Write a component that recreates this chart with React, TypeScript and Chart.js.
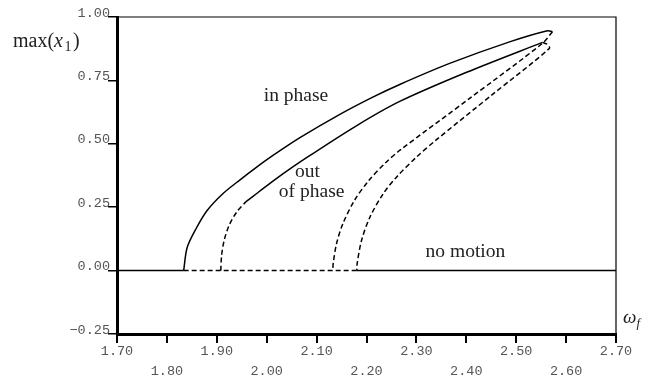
import React, { useEffect, useRef } from "react";
import { Chart, registerables } from "chart.js";

Chart.register(...registerables);

// ---- tick values / labels ----
const xTickValues = [1.7, 1.8, 1.9, 2.0, 2.1, 2.2, 2.3, 2.4, 2.5, 2.6, 2.7];
const xTickLabels = ["1.70", "1.80", "1.90", "2.00", "2.10", "2.20", "2.30", "2.40", "2.50", "2.60", "2.70"];
const yTickValues = [-0.25, 0, 0.25, 0.5, 0.75, 1.0];
const yTickLabels = ["\u22120.25", "0.00", "0.25", "0.50", "0.75", "1.00"];

// ---- zero solution (no motion) ----
const zeroSolidLeftX = [1.7, 1.8336];
const zeroDashedX = [1.8336, 2.1806];
const zeroSolidRightX = [2.1806, 2.7];

// ---- in phase branch ----
const inPhaseStableX = [1.8336, 1.8406, 1.8586, 1.8806, 1.9126, 1.9466, 1.9806, 2.0126, 2.0666, 2.1466, 2.2126, 2.2666, 2.3666, 2.4866, 2.5626, 2.5726];
const inPhaseStableY = [0, 0.091, 0.166, 0.237, 0.304, 0.358, 0.409, 0.454, 0.524, 0.616, 0.684, 0.734, 0.817, 0.902, 0.946, 0.942];
const inPhaseUnstableX = [2.5726, 2.5526, 2.4066, 2.2664, 2.2388, 2.2046, 2.1758, 2.1528, 2.14, 2.1332, 2.1326];
const inPhaseUnstableY = [0.942, 0.896, 0.679, 0.4737, 0.4264, 0.3553, 0.2764, 0.1856, 0.1066, 0.0276, 0];

// ---- out of phase branch ----
const outPhaseLowUnstableX = [1.908, 1.9096, 1.9146, 1.9246, 1.9406, 1.9586];
const outPhaseLowUnstableY = [0, 0.059, 0.118, 0.178, 0.233, 0.272];
const outPhaseStableX = [1.9586, 1.9826, 2.0166, 2.0806, 2.1806, 2.2666, 2.4006, 2.5526];
const outPhaseStableY = [0.272, 0.308, 0.359, 0.446, 0.572, 0.667, 0.782, 0.9];
const outPhaseHighUnstableX = [2.5526, 2.5626, 2.5666, 2.4526, 2.3384, 2.3, 2.26, 2.2334, 2.2068, 2.19, 2.1812, 2.1806];
const outPhaseHighUnstableY = [0.9, 0.892, 0.8764, 0.6948, 0.5132, 0.4473, 0.3683, 0.3028, 0.2104, 0.1185, 0.0265, 0];

// ---- annotations (data coordinates, baseline) ----
const annotationTexts = ["in phase", "out", "of phase", "no motion"];
const annotationX = [2.0586, 2.0816, 2.09, 2.3982];
const annotationY = [0.668, 0.371, 0.289, 0.0525];

const zip = (xs: number[], ys: number[]) => xs.map((x, i) => ({ x, y: ys[i] }));
const zeroLine = (xs: number[]) => xs.map((x) => ({ x, y: 0 }));

const SERIF = "'Liberation Serif', 'Times New Roman', serif";

const decorPlugin = {
  id: "decor",
  afterDraw(chart: any) {
    const { ctx, chartArea, scales } = chart;
    ctx.save();
    // thin top and right frame
    ctx.strokeStyle = "#000";
    ctx.lineWidth = 1.2;
    ctx.beginPath();
    ctx.moveTo(chartArea.left, chartArea.top);
    ctx.lineTo(chartArea.right, chartArea.top);
    ctx.lineTo(chartArea.right, chartArea.bottom);
    ctx.stroke();

    // annotations
    ctx.fillStyle = "#222";
    ctx.font = `19.5px ${SERIF}`;
    ctx.textAlign = "center";
    ctx.textBaseline = "alphabetic";
    annotationTexts.forEach((t, i) => {
      ctx.fillText(t, scales.x.getPixelForValue(annotationX[i]), scales.y.getPixelForValue(annotationY[i]));
    });

    // y-axis title: max(x_1)
    ctx.textAlign = "left";
    let px = chartArea.left - 104;
    const base = chartArea.top + 30;
    ctx.font = `20px ${SERIF}`;
    ctx.fillText("max(", px, base);
    px += ctx.measureText("max(").width;
    ctx.font = `italic 20px ${SERIF}`;
    ctx.fillText("x", px, base);
    px += ctx.measureText("x").width + 1.5;
    ctx.font = `14px ${SERIF}`;
    ctx.fillText("1", px, base + 4);
    px += ctx.measureText("1").width + 1.5;
    ctx.font = `20px ${SERIF}`;
    ctx.fillText(")", px, base);

    // x-axis title: omega_f
    let ox = chartArea.right + 7;
    const ob = chartArea.bottom - 11;
    ctx.font = `italic 19px ${SERIF}`;
    ctx.fillText("\u03c9", ox, ob);
    ox += ctx.measureText("\u03c9").width;
    ctx.font = `italic 13px ${SERIF}`;
    ctx.fillText("f", ox, ob + 4);
    ctx.restore();
  },
};

export default function App() {
  const ref = useRef<HTMLCanvasElement | null>(null);

  useEffect(() => {
    if (!ref.current) return;
    const solid = { borderColor: "#000", borderWidth: 1.5, pointRadius: 0, showLine: true, tension: 0.3, fill: false };
    const dashed = { ...solid, borderDash: [5, 3] };
    const chart = new Chart(ref.current, {
      type: "scatter",
      data: {
        datasets: [
          { ...solid, tension: 0, data: zeroLine(zeroSolidLeftX) },
          { ...dashed, tension: 0, data: zeroLine(zeroDashedX) },
          { ...solid, tension: 0, data: zeroLine(zeroSolidRightX) },
          { ...solid, data: zip(inPhaseStableX, inPhaseStableY) },
          { ...dashed, data: zip(inPhaseUnstableX, inPhaseUnstableY) },
          { ...dashed, data: zip(outPhaseLowUnstableX, outPhaseLowUnstableY) },
          { ...solid, data: zip(outPhaseStableX, outPhaseStableY) },
          { ...dashed, data: zip(outPhaseHighUnstableX, outPhaseHighUnstableY) },
        ] as any,
      },
      options: {
        responsive: false,
        animation: false,
        devicePixelRatio: 1,
        layout: { padding: { top: 17, right: 41, left: 0, bottom: 0 } },
        plugins: { legend: { display: false }, tooltip: { enabled: false } },
        scales: {
          x: {
            type: "linear",
            min: 1.7,
            max: 2.7,
            afterFit: (s: any) => {
              s.height = 47;
            },
            afterBuildTicks: (s: any) => {
              s.ticks = xTickValues.map((v) => ({ value: v }));
            },
            ticks: {
              autoSkip: false,
              maxRotation: 0,
              padding: -2,
              color: "#555",
              font: { family: "'Liberation Mono', monospace", size: 13.5, lineHeight: 1.48 },
              callback: (v: any, i: number) => {
                const lbl = xTickLabels[i] ?? String(v);
                return i % 2 === 1 ? ["", lbl] : lbl;
              },
            },
            grid: { drawOnChartArea: false, color: "#000", tickLength: 9, lineWidth: 2, tickWidth: 2 },
            border: { display: true, color: "#000", width: 3 },
          },
          y: {
            type: "linear",
            min: -0.25,
            max: 1.0,
            afterFit: (s: any) => {
              s.width = 117;
            },
            afterBuildTicks: (s: any) => {
              s.ticks = yTickValues.map((v) => ({ value: v }));
            },
            ticks: {
              padding: -2,
              labelOffset: -4,
              color: "#555",
              font: { family: "'Liberation Mono', monospace", size: 13.5 },
              callback: (v: any, i: number) => yTickLabels[i] ?? String(v),
            },
            grid: { drawOnChartArea: false, color: "#000", tickLength: 9, lineWidth: 1.5, tickWidth: 1.5 },
            border: { display: true, color: "#000", width: 3 },
          },
        },
      },
      plugins: [decorPlugin],
    });
    return () => chart.destroy();
  }, []);

  return (
    <div style={{ position: "absolute", left: 0, top: 0, width: 657, height: 381, background: "#fff" }}>
      <canvas ref={ref} width={657} height={381} style={{ display: "block", width: 657, height: 381 }} />
    </div>
  );
}
